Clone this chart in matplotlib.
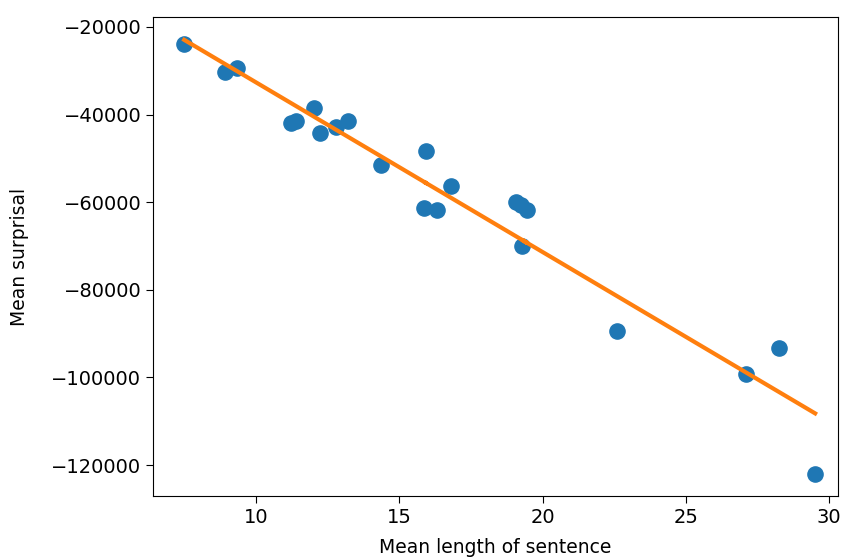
import numpy as np
import matplotlib
matplotlib.use("Agg")
import matplotlib.pyplot as plt

# mean sentence length vs mean surprisal
mean_length = [7.50, 8.92, 9.34, 11.22, 11.39, 12.02, 12.23, 12.78, 13.20, 14.35,
               15.95, 15.88, 16.33, 16.82, 19.08, 19.25, 19.46, 19.29, 22.59,
               27.11, 28.26, 29.51]
mean_surprisal = [-23900, -30300, -29400, -41900, -41500, -38500, -44200, -42900,
                  -41500, -51500, -48300, -61400, -61800, -56300, -60000, -60700,
                  -61800, -70100, -89300, -99300, -93400, -122000]

x = np.array(mean_length)
y = np.array(mean_surprisal)
m, b = np.polyfit(x, y, 1)

fig = plt.figure(figsize=(8.42, 5.6), dpi=100)
ax = fig.add_axes([0.182, 0.114, 0.813, 0.856])
ax.scatter(x, y, s=120, color="#1f77b4", zorder=2)
ax.plot(x, m * x + b, color="#ff7f0e", linewidth=3, zorder=3)

ax.set_xlim(6.42, 30.3)
ax.set_ylim(-127100, -17700)
ax.set_xticks([10, 15, 20, 25, 30])
ax.set_yticks([-20000, -40000, -60000, -80000, -100000, -120000])
ax.tick_params(labelsize=14, length=5)
ax.set_xlabel("Mean length of sentence", fontsize=13.5, labelpad=8)
ax.set_ylabel("Mean surprisal", fontsize=13.5, labelpad=16)

fig.savefig("out.png", dpi=100)
